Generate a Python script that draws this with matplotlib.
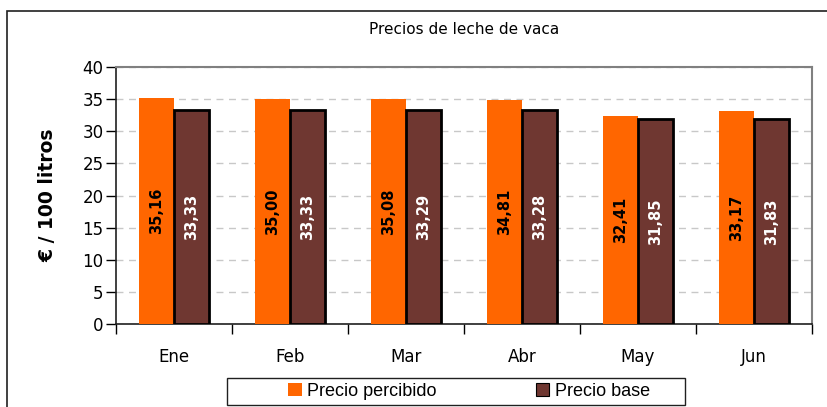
"""
Precios de leche de vaca: precio percibido vs precio base.
"""

import matplotlib.pyplot as plt
from matplotlib.patches import Rectangle, Patch
import numpy as np


meses = ["Ene", "Feb", "Mar", "Abr", "May", "Jun"]
precio_percibido = [35.16, 35.00, 35.08, 34.81, 32.41, 33.17]
precio_base = [33.33, 33.33, 33.29, 33.28, 31.85, 31.83]

ORANGE = "#ff6600"
BROWN = "#6f3731"


def fmt(v):
    return f"{v:.2f}".replace(".", ",")


def main():
    W, H = 827, 407
    fig = plt.figure(figsize=(W / 100, H / 100), dpi=100)
    ax = fig.add_axes([116 / W, 1 - 324 / H, (812 - 116) / W, (324 - 67) / H])

    x = np.arange(len(meses))
    bw = 0.3
    b1 = ax.bar(x - bw / 2, precio_percibido, width=bw, color=ORANGE, zorder=3)
    b2 = ax.bar(x + bw / 2, precio_base, width=bw, color=BROWN, edgecolor="black",
                linewidth=2, zorder=3)

    for rect, v in zip(b1, precio_percibido):
        ax.text(rect.get_x() + rect.get_width() / 2, v / 2, fmt(v), rotation=90,
                ha="center", va="center", fontsize=10.5, fontweight="bold", color="black", zorder=4)
    for rect, v in zip(b2, precio_base):
        ax.text(rect.get_x() + rect.get_width() / 2, v / 2, fmt(v), rotation=90,
                ha="center", va="center", fontsize=10.5, fontweight="bold", color="white", zorder=4)

    ax.set_xlim(-0.5, len(meses) - 0.5)
    ax.set_ylim(0, 40)
    ax.set_yticks(range(0, 41, 5))
    ax.set_xticks(np.arange(-0.5, len(meses), 1.0))
    ax.set_xticklabels([])
    ax.set_xticks(x, minor=True)
    ax.set_xticklabels(meses, minor=True, fontsize=12)
    ax.tick_params(axis="x", which="minor", length=0, pad=17)
    ax.tick_params(axis="x", which="major", length=7, width=1, direction="out")
    ax.tick_params(axis="y", length=7, width=1, labelsize=12, pad=2)

    ax.yaxis.grid(True, linestyle=(0, (5, 4)), color="#c8c8c8", linewidth=1, zorder=0)
    ax.set_axisbelow(True)
    for side in ("top", "right"):
        ax.spines[side].set_color("#808080")
        ax.spines[side].set_linewidth(1.5)
    for side in ("left", "bottom"):
        ax.spines[side].set_color("#202020")
        ax.spines[side].set_linewidth(1.2)

    ax.set_ylabel("€ / 100 litros", fontsize=13.5, fontweight="bold", labelpad=18)
    fig.text(0.5 * (116 + 812) / W, 1 - 30 / H, "Precios de leche de vaca",
             ha="center", va="center", fontsize=11)

    fig.add_artist(Rectangle((7 / W, -0.02), 1.05, 1 - 11 / H + 0.02, transform=fig.transFigure,
                             fill=False, edgecolor="#202020", linewidth=1.2, clip_on=False))

    # legend box drawn separately, entries centred inside it
    fig.add_artist(Rectangle((227 / W, 2 / H), (685 - 227) / W, 27 / H, transform=fig.transFigure,
                             fill=False, edgecolor="#202020", linewidth=1.0))
    handles = [Patch(facecolor=ORANGE, edgecolor="none", label="Precio percibido"),
               Patch(facecolor=BROWN, edgecolor="black", linewidth=0.8, label="Precio base")]
    fig.legend(handles=handles, loc="center", ncol=2,
               bbox_to_anchor=(469 / W, 1 - 391 / H),
               frameon=False, handlelength=0.75, handleheight=0.75, handletextpad=0.3,
               columnspacing=5.5, borderpad=0.1,
               prop={"family": "Liberation Sans", "size": 13})

    fig.savefig("out.png", dpi=100)
    plt.close(fig)


if __name__ == "__main__":
    main()
